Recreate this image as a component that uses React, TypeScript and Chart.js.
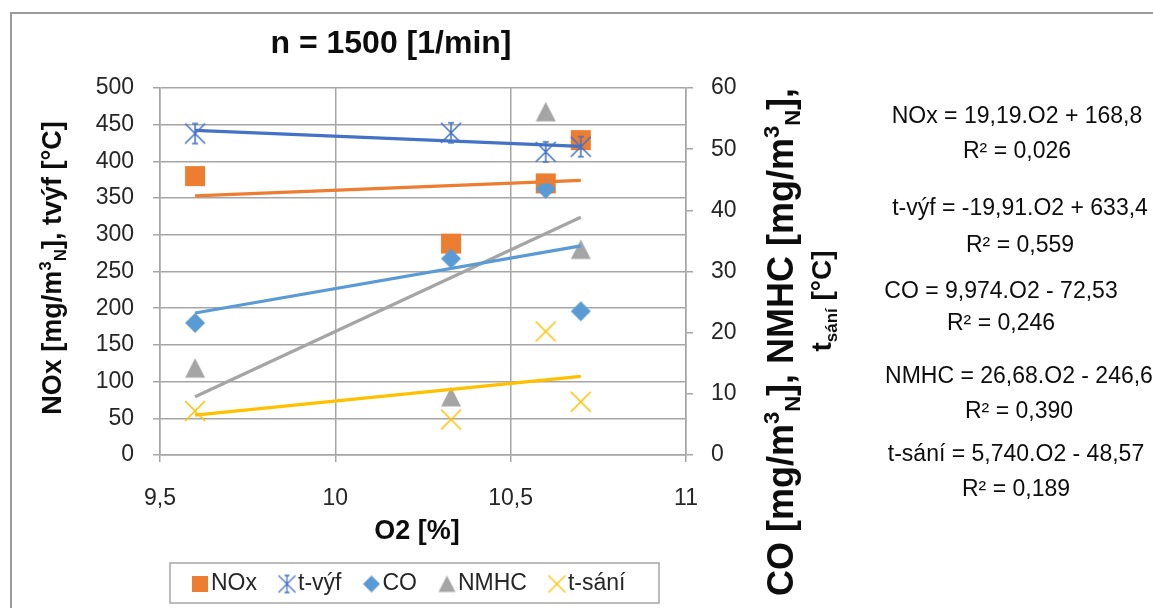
import React, { useEffect, useRef } from 'react';
import { Chart, registerables } from 'chart.js';

Chart.register(...registerables);

// ---------- data ----------
const O2 = [9.6, 10.33, 10.6, 10.7];
const NOX = [380, 288, 370, 429];
const T_VYF = [438, 439, 413, 420];
const CO = [21.6, 32.1, 43.5, 23.5];
const NMHC = [14.2, 9.5, 56.1, 33.6];
const T_SANI = [7.2, 5.8, 20.2, 8.7];

const SERIES_NAMES = ['NOx', 't-výf', 'CO', 'NMHC', 't-sání'];

// linear trend coefficients [slope, intercept] as printed on the chart
const TREND_NOX = [19.19, 168.8];
const TREND_TVYF = [-19.91, 633.4];
const TREND_CO = [9.974, -72.53];
const TREND_NMHC = [26.68, -246.6];
const TREND_TSANI = [5.74, -48.57];

const EQUATIONS = [
  ['NOx = 19,19.O2 + 168,8', 'R² = 0,026'],
  ['t-výf = -19,91.O2 + 633,4', 'R² = 0,559'],
  ['CO = 9,974.O2 - 72,53', 'R² = 0,246'],
  ['NMHC = 26,68.O2 - 246,6', 'R² = 0,390'],
  ['t-sání = 5,740.O2 - 48,57', 'R² = 0,189'],
];

const TITLE = 'n = 1500 [1/min]';
const X_TITLE = 'O2 [%]';
// [text, 0 normal | 1 superscript | -1 subscript]
const Y_TITLE: [string, number][] = [['NOx [mg/m', 0], ['3', 1], ['N', -1], ['], tvýf [°C]', 0]];
const Y1_TITLE_1: [string, number][] = [
  ['CO [mg/m', 0], ['3', 1], ['N', -1], ['], NMHC [mg/m', 0], ['3', 1], ['N', -1], ['],', 0],
];
const Y1_TITLE_2: [string, number][] = [['t', 0], ['sání', -1], [' [°C]', 0]];

const X_MIN = 9.5, X_MAX = 11, X_STEP = 0.5;
const Y_MIN = 0, Y_MAX = 500, Y_STEP = 50;
const Y1_MIN = 0, Y1_MAX = 60, Y1_STEP = 10;

// ---------- style ----------
const FONT = "'Liberation Sans', Arial, sans-serif";
const C_NOX = '#ED7D31';
const C_TVYF = '#4472C4';
const C_CO = '#5B9BD5';
const C_NMHC = '#A5A5A5';
const C_TSANI = '#FFC000';
const TEXT = '#262626';
const GRID = '#a6a6a6';

function makeMarker(kind: string, color: string, size: number): HTMLCanvasElement {
  const pad = 2;
  const s = Math.round(size + pad * 2);
  const c = document.createElement('canvas');
  c.width = s;
  c.height = s;
  const g = c.getContext('2d')!;
  const m = s / 2;
  const h = size / 2;
  g.fillStyle = color;
  g.strokeStyle = color;
  g.lineWidth = Math.max(1.2, size / 13);
  g.lineCap = 'butt';
  g.beginPath();
  if (kind === 'square') {
    g.fillRect(m - h, m - h, size, size);
  } else if (kind === 'diamond') {
    g.moveTo(m, m - h);
    g.lineTo(m + h, m);
    g.lineTo(m, m + h);
    g.lineTo(m - h, m);
    g.closePath();
    g.fill();
  } else if (kind === 'triangle') {
    g.moveTo(m, m - h);
    g.lineTo(m + h, m + h * 0.95);
    g.lineTo(m - h, m + h * 0.95);
    g.closePath();
    g.fill();
  } else if (kind === 'x') {
    g.moveTo(m - h, m - h);
    g.lineTo(m + h, m + h);
    g.moveTo(m + h, m - h);
    g.lineTo(m - h, m + h);
    g.stroke();
  } else if (kind === 'star') {
    g.moveTo(m - h, m - h);
    g.lineTo(m + h, m + h);
    g.moveTo(m + h, m - h);
    g.lineTo(m - h, m + h);
    g.moveTo(m, m - h);
    g.lineTo(m, m + h);
    g.moveTo(m - h * 0.3, m - h);
    g.lineTo(m + h * 0.3, m - h);
    g.moveTo(m - h * 0.3, m + h);
    g.lineTo(m + h * 0.3, m + h);
    g.stroke();
  }
  return c;
}

function drawRich(
  ctx: CanvasRenderingContext2D,
  parts: [string, number][],
  size: number,
  bold: boolean,
  x: number,
  y: number,
  rot: number,
) {
  ctx.save();
  ctx.translate(x, y);
  ctx.rotate(rot);
  const fontFor = (k: number) => `${bold ? 'bold ' : ''}${k === 0 ? size : Math.round(size * 0.62)}px ${FONT}`;
  const widths: number[] = [];
  let total = 0;
  for (const [t, k] of parts) {
    ctx.font = fontFor(k);
    const w = ctx.measureText(t).width;
    widths.push(w);
    total += w;
  }
  let cx = -total / 2;
  ctx.textBaseline = 'alphabetic';
  ctx.textAlign = 'left';
  ctx.fillStyle = '#0d0d0d';
  parts.forEach(([t, k], i) => {
    ctx.font = fontFor(k);
    const dy = k === 1 ? -size * 0.38 : k === -1 ? size * 0.2 : 0;
    ctx.fillText(t, cx, dy);
    cx += widths[i];
  });
  ctx.restore();
}

const trendPoints = (coef: number[]) => {
  const lo = Math.min(...O2);
  const hi = Math.max(...O2);
  return [lo, hi].map((x) => ({ x, y: coef[0] * x + coef[1] }));
};

export default function App() {
  const ref = useRef<HTMLCanvasElement>(null);

  useEffect(() => {
    const canvas = ref.current!;
    const markers = {
      nox: makeMarker('square', C_NOX, 20),
      tvyf: makeMarker('star', C_TVYF, 20),
      co: makeMarker('diamond', C_CO, 20),
      nmhc: makeMarker('triangle', C_NMHC, 20),
      tsani: makeMarker('x', C_TSANI, 20),
    };
    const legendMarkers = [
      makeMarker('square', C_NOX, 16),
      makeMarker('star', C_TVYF, 17),
      makeMarker('diamond', C_CO, 17),
      makeMarker('triangle', C_NMHC, 17),
      makeMarker('x', C_TSANI, 17),
    ];

    const pts = (ys: number[]) => O2.map((x, i) => ({ x, y: ys[i] }));
    const trend = (coef: number[], color: string, axis: string) => ({
      type: 'scatter' as const,
      data: trendPoints(coef),
      showLine: true,
      borderColor: color,
      borderWidth: 3.2,
      pointRadius: 0,
      yAxisID: axis,
    });
    const scatter = (ys: number[], img: HTMLCanvasElement, axis: string) => ({
      type: 'scatter' as const,
      data: pts(ys),
      pointStyle: img,
      pointRadius: 10,
      showLine: false,
      yAxisID: axis,
    });

    const decor = {
      id: 'decor',
      afterDraw(chart: any) {
        const ctx: CanvasRenderingContext2D = chart.ctx;
        ctx.save();
        // outer border
        ctx.strokeStyle = '#9a9a9a';
        ctx.lineWidth = 2;
        ctx.strokeRect(11, 13, 1200, 700);

        // title
        ctx.fillStyle = '#0d0d0d';
        ctx.font = `bold 32px ${FONT}`;
        ctx.textAlign = 'center';
        ctx.textBaseline = 'alphabetic';
        ctx.fillText(TITLE, 391, 53);

        // x axis title
        ctx.font = `bold 27px ${FONT}`;
        ctx.fillText(X_TITLE, 417, 539);

        // y axis titles
        drawRich(ctx, Y_TITLE, 27, true, 61, 268, -Math.PI / 2);
        drawRich(ctx, Y1_TITLE_1, 36, true, 793, 342, -Math.PI / 2);
        drawRich(ctx, Y1_TITLE_2, 28, true, 831, 301, -Math.PI / 2);

        // trendline equations
        const eqCenters = [1017, 1020, 1001, 1019, 1016];
        const eqY = [
          [115, 150],
          [207, 244],
          [290, 322],
          [375, 410],
          [453, 488],
        ];
        ctx.font = `23px ${FONT}`;
        ctx.fillStyle = '#0d0d0d';
        ctx.textAlign = 'center';
        EQUATIONS.forEach((lines, i) => {
          lines.forEach((t, j) => ctx.fillText(t, eqCenters[i], eqY[i][j] + 8));
        });

        // legend
        const boxL = 170, boxT = 563, boxR = 659, boxB = 603;
        ctx.strokeStyle = '#a6a6a6';
        ctx.lineWidth = 1.5;
        ctx.strokeRect(boxL, boxT, boxR - boxL, boxB - boxT);
        ctx.font = `23px ${FONT}`;
        ctx.textAlign = 'left';
        ctx.textBaseline = 'middle';
        ctx.fillStyle = TEXT;
        let cur = 192;
        const cy = (boxT + boxB) / 2 + 1;
        SERIES_NAMES.forEach((name, i) => {
          const img = legendMarkers[i];
          ctx.drawImage(img, cur - img.width / 2 + 8, cy - img.height / 2);
          const tx = cur + 19;
          ctx.fillText(name, tx, cy);
          cur = tx + ctx.measureText(name).width + 22;
        });
        ctx.restore();
      },
    };

    const tickFont = { family: FONT, size: 23 };
    const chart = new Chart(canvas, {
      type: 'scatter',
      data: {
        datasets: [
          trend(TREND_NOX, C_NOX, 'y'),
          trend(TREND_TVYF, C_TVYF, 'y'),
          trend(TREND_CO, C_CO, 'y1'),
          trend(TREND_NMHC, C_NMHC, 'y1'),
          trend(TREND_TSANI, C_TSANI, 'y1'),
          scatter(T_SANI, markers.tsani, 'y1'),
          scatter(NMHC, markers.nmhc, 'y1'),
          scatter(CO, markers.co, 'y1'),
          scatter(T_VYF, markers.tvyf, 'y'),
          scatter(NOX, markers.nox, 'y'),
        ] as any,
      },
      options: {
        animation: false,
        responsive: false,
        devicePixelRatio: 1,
        layout: { padding: { top: 88, left: 0, right: 0, bottom: 0 } },
        plugins: { legend: { display: false }, tooltip: { enabled: false }, title: { display: false } },
        scales: {
          x: {
            type: 'linear',
            min: X_MIN,
            max: X_MAX,
            ticks: {
              stepSize: X_STEP,
              font: tickFont,
              color: TEXT,
              padding: 23,
              callback: (v: any) => String(v).replace('.', ','),
            },
            grid: { color: GRID, lineWidth: 1.5, tickLength: 7 },
            border: { color: GRID, width: 1.5 },
            afterFit: (s: any) => {
              s.height = 153;
            },
          },
          y: {
            type: 'linear',
            position: 'left',
            min: Y_MIN,
            max: Y_MAX,
            ticks: { stepSize: Y_STEP, font: tickFont, color: TEXT, padding: 19 },
            grid: { color: GRID, lineWidth: 1.5, tickLength: 7 },
            border: { color: GRID, width: 1.5 },
            afterFit: (s: any) => {
              s.width = 160;
            },
          },
          y1: {
            type: 'linear',
            position: 'right',
            min: Y1_MIN,
            max: Y1_MAX,
            ticks: { stepSize: Y1_STEP, font: tickFont, color: TEXT, padding: 18 },
            grid: { drawOnChartArea: false, color: GRID, lineWidth: 1.5, tickLength: 7 },
            border: { color: GRID, width: 1.5 },
            afterFit: (s: any) => {
              s.width = 1153 - 686;
            },
          },
        },
      } as any,
      plugins: [decor],
    });
    return () => chart.destroy();
  }, []);

  return (
    <div style={{ position: 'absolute', left: 0, top: 0, width: 1153, height: 608, background: '#fff' }}>
      <canvas ref={ref} width={1153} height={608} style={{ width: 1153, height: 608, display: 'block' }} />
    </div>
  );
}
